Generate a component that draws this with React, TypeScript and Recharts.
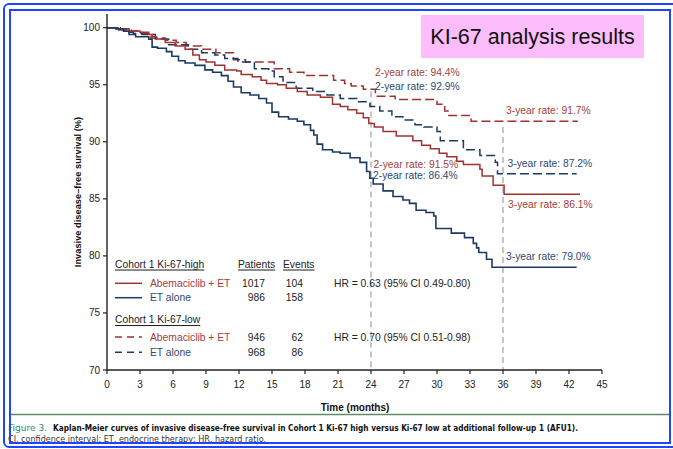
import React from 'react';
import { LineChart, Line, XAxis, YAxis, ReferenceLine } from 'recharts';

// ---- data (months, survival %) ----
const xTicks = [0, 3, 6, 9, 12, 15, 18, 21, 24, 27, 30, 33, 36, 39, 42, 45];
const yTicks = [70, 75, 80, 85, 90, 95, 100];

const highAbema: [number, number][] = [
  [0, 100], [1.0, 99.9], [2.0, 99.7], [3.0, 99.6], [3.8, 99.4], [4.1, 99.2], [4.5, 99.0],
  [5.3, 98.7], [6.2, 98.4], [7.1, 98.1], [7.8, 97.6], [8.4, 97.2], [9.0, 97.0], [9.8, 96.7],
  [10.7, 96.3], [11.8, 96.2], [12.2, 95.9], [13.2, 95.7], [14.0, 95.4], [14.5, 95.1],
  [15.5, 95.0], [16.3, 94.7], [17.3, 94.4], [18.2, 94.1], [19.4, 93.9], [20.5, 93.3],
  [21.2, 93.1], [21.9, 92.8], [22.7, 92.5], [23.3, 92.1], [23.8, 91.6], [24.3, 91.3],
  [25.1, 90.9], [26.3, 90.5], [27.8, 90.1], [28.6, 89.7], [29.4, 89.4], [30.2, 89.0],
  [30.9, 88.7], [31.8, 88.3], [32.4, 88.0], [33.9, 87.6], [34.1, 87.0], [35.1, 86.2],
  [36.1, 85.4], [43.0, 85.4],
];

const highET: [number, number][] = [
  [0, 100], [0.8, 99.9], [1.5, 99.7], [2.0, 99.4], [2.6, 99.2], [3.8, 99.0], [4.1, 98.3],
  [4.6, 98.2], [5.4, 97.9], [5.9, 97.5], [6.5, 97.1], [7.1, 96.9], [8.0, 96.7], [8.9, 96.3],
  [9.6, 96.1], [10.4, 95.8], [11.0, 95.3], [11.5, 94.8], [12.2, 94.3], [13.0, 94.1],
  [13.8, 93.8], [14.5, 93.4], [15.0, 92.6], [15.6, 92.2], [16.5, 92.0], [17.3, 91.8],
  [17.9, 91.5], [18.5, 91.0], [18.8, 90.6], [19.1, 89.8], [19.6, 89.3], [20.5, 89.1],
  [21.2, 89.0], [22.1, 88.6], [23.0, 88.2], [23.6, 87.4], [23.9, 86.8], [24.2, 86.3],
  [25.1, 85.7], [26.0, 85.2], [26.9, 84.9], [27.5, 84.6], [28.1, 84.0], [29.0, 83.8],
  [29.7, 83.5], [29.9, 82.4], [31.3, 82.0], [32.5, 81.6], [33.3, 81.1], [33.6, 80.7],
  [33.8, 80.3], [34.5, 79.7], [35.0, 79.0], [42.7, 79.0],
];

const lowAbema: [number, number][] = [
  [0, 100], [0.9, 99.8], [2.2, 99.7], [3.2, 99.5], [4.0, 99.1], [5.3, 98.9], [6.3, 98.7],
  [7.2, 98.4], [8.6, 98.1], [9.9, 97.8], [11.5, 97.2], [12.6, 97.0], [15.2, 96.4],
  [16.6, 96.1], [17.9, 95.8], [20.6, 95.4], [21.6, 95.1], [22.2, 94.9], [23.3, 94.6],
  [24.4, 94.0], [26.2, 93.7], [30.0, 93.3], [30.7, 92.7], [31.0, 92.3], [33.1, 91.8],
  [42.8, 91.8],
];

const lowET: [number, number][] = [
  [0, 100], [1.2, 99.9], [1.8, 99.6], [2.4, 99.5], [3.2, 99.4], [4.4, 99.0], [5.6, 98.5],
  [7.4, 98.1], [8.6, 97.8], [9.8, 97.6], [10.7, 97.3], [11.9, 97.0], [13.4, 96.4],
  [14.7, 96.2], [15.2, 95.7], [16.0, 95.2], [17.2, 94.7], [18.7, 94.4], [20.0, 94.1],
  [21.2, 93.8], [22.7, 93.5], [23.9, 93.1], [24.8, 92.7], [25.9, 92.2], [26.9, 91.9],
  [28.0, 91.5], [28.8, 91.3], [30.0, 90.9], [30.3, 90.1], [32.4, 89.3], [33.9, 88.8],
  [35.3, 88.2], [35.5, 87.2], [42.7, 87.2],
];

const rateLabels = [
  { text: '2-year rate: 94.4%', group: 'red' },
  { text: '2-year rate: 92.9%', group: 'blue' },
  { text: '3-year rate: 91.7%', group: 'red' },
  { text: '2-year rate: 91.5%', group: 'red' },
  { text: '2-year rate: 86.4%', group: 'blue' },
  { text: '3-year rate: 87.2%', group: 'blue' },
  { text: '3-year rate: 86.1%', group: 'red' },
  { text: '3-year rate: 79.0%', group: 'blue' },
];

const toPts = (arr: [number, number][]) => arr.map(([t, s]) => ({ t, s }));

const RED = '#a03232';
const BLUE = '#1d3a63';
const RED_TXT = '#a4403b';
const BLUE_TXT = '#2c4a72';
const FONT = '"Liberation Sans", Arial, Helvetica, sans-serif';
const NARROW = '"Liberation Sans Narrow", "DejaVu Sans Condensed", Arial, sans-serif';

const ratePos = [
  [375, 72.7], [375, 86], [506, 110], [373.5, 164], [373, 175.7], [507.5, 163.3], [508, 204], [506, 256.7],
];

export default function App() {
  return (
    <div style={{ position: 'absolute', left: 0, top: 0, width: 673, height: 449, background: '#fff', overflow: 'hidden' }}>
      <LineChart
        width={673}
        height={449}
        margin={{ top: 14, right: 71, bottom: 39, left: 47 }}
      >
        <XAxis
          type="number"
          dataKey="t"
          domain={[0, 45]}
          ticks={xTicks}
          interval={0}
          allowDataOverflow
          height={40}
          tickSize={4}
          tickMargin={7}
          axisLine={{ stroke: '#222', strokeWidth: 1.4 }}
          tickLine={{ stroke: '#222', strokeWidth: 1.2 }}
          tick={{ fontSize: 10, fill: '#222', fontFamily: FONT }}
        />
        <YAxis
          type="number"
          dataKey="s"
          domain={[70, 101.2]}
          ticks={yTicks}
          interval={0}
          allowDataOverflow
          width={60}
          tickSize={4}
          tickMargin={3}
          axisLine={{ stroke: '#222', strokeWidth: 1.4 }}
          tickLine={{ stroke: '#222', strokeWidth: 1.2 }}
          tick={{ fontSize: 10, fill: '#222', fontFamily: FONT }}
        />
        <ReferenceLine segment={[{ x: 24, y: 94.4 }, { x: 24, y: 70 }]} stroke="#999" strokeWidth={1.1} strokeDasharray="6 4" />
        <ReferenceLine segment={[{ x: 36, y: 91.3 }, { x: 36, y: 70 }]} stroke="#999" strokeWidth={1.1} strokeDasharray="6 4" />
        <Line data={toPts(lowAbema)} dataKey="s" type="stepAfter" stroke={RED} strokeWidth={1.5} strokeDasharray="9 4" dot={false} isAnimationActive={false} />
        <Line data={toPts(lowET)} dataKey="s" type="stepAfter" stroke={BLUE} strokeWidth={1.5} strokeDasharray="9 4" dot={false} isAnimationActive={false} />
        <Line data={toPts(highAbema)} dataKey="s" type="stepAfter" stroke={RED} strokeWidth={1.5} dot={false} isAnimationActive={false} />
        <Line data={toPts(highET)} dataKey="s" type="stepAfter" stroke={BLUE} strokeWidth={1.6} dot={false} isAnimationActive={false} />
      </LineChart>

      <svg width={673} height={449} style={{ position: 'absolute', left: 0, top: 0, pointerEvents: 'none' }}>
        {/* pink title box */}
        <rect x={421} y={15} width={223} height={43} fill="#fdbdfc" />
        <text x={532.5} y={44} textAnchor="middle" fontSize={21.5} fill="#111" fontFamily={FONT}>KI-67 analysis results</text>

        {/* rate annotations */}
        {rateLabels.map((r, i) => (
          <text key={i} x={ratePos[i][0]} y={ratePos[i][1]} dominantBaseline="central" fontSize={10.3}
            fill={r.group === 'red' ? RED_TXT : BLUE_TXT} fontFamily={FONT}>{r.text}</text>
        ))}

        {/* legend */}
        <g fontFamily={FONT} fontSize={10.3} fill="#222">
          <text x={115} y={264} dominantBaseline="central" style={{ textDecoration: 'underline' }}>Cohort 1 Ki-67-high</text>
          <text x={238} y={264} dominantBaseline="central" style={{ textDecoration: 'underline' }}>Patients</text>
          <text x={283} y={264} dominantBaseline="central" style={{ textDecoration: 'underline' }}>Events</text>

          <line x1={115} x2={142} y1={283.3} y2={283.3} stroke={RED} strokeWidth={1.5} />
          <text x={150} y={283} dominantBaseline="central" fill={RED_TXT}>Abemaciclib + ET</text>
          <text x={265} y={283} dominantBaseline="central" textAnchor="end">1017</text>
          <text x={303} y={283} dominantBaseline="central" textAnchor="end">104</text>
          <text x={334} y={283} dominantBaseline="central">HR = 0.63 (95% CI 0.49-0.80)</text>

          <line x1={115} x2={142} y1={297.7} y2={297.7} stroke={BLUE} strokeWidth={1.5} />
          <text x={150} y={297.7} dominantBaseline="central" fill={BLUE_TXT}>ET alone</text>
          <text x={265} y={297.7} dominantBaseline="central" textAnchor="end">986</text>
          <text x={303} y={297.7} dominantBaseline="central" textAnchor="end">158</text>

          <text x={115} y={319.5} dominantBaseline="central" style={{ textDecoration: 'underline' }}>Cohort 1 Ki-67-low</text>

          <line x1={115} x2={142} y1={337} y2={337} stroke={RED} strokeWidth={1.5} strokeDasharray="7 5" />
          <text x={150} y={337} dominantBaseline="central" fill={RED_TXT}>Abemaciclib + ET</text>
          <text x={265} y={337} dominantBaseline="central" textAnchor="end">946</text>
          <text x={303} y={337} dominantBaseline="central" textAnchor="end">62</text>
          <text x={334} y={337} dominantBaseline="central">HR = 0.70 (95% CI 0.51-0.98)</text>

          <line x1={115} x2={142} y1={352.3} y2={352.3} stroke={BLUE} strokeWidth={1.5} strokeDasharray="7 5" />
          <text x={150} y={352.3} dominantBaseline="central" fill={BLUE_TXT}>ET alone</text>
          <text x={265} y={352.3} dominantBaseline="central" textAnchor="end">968</text>
          <text x={303} y={352.3} dominantBaseline="central" textAnchor="end">86</text>
        </g>

        {/* axis titles */}
        <text x={78} y={192} transform="rotate(-90 78 192)" textAnchor="middle" dominantBaseline="central"
          fontSize={9.3} fontWeight="bold" fill="#111" fontFamily={FONT}>Invasive disease–free survival (%)</text>
        <text x={355} y={407} textAnchor="middle" dominantBaseline="central" fontSize={10} fontWeight="bold"
          fill="#111" fontFamily={FONT}>Time (months)</text>

        {/* caption */}
        <line x1={10} x2={670} y1={414.5} y2={414.5} stroke="#5f8a6c" strokeWidth={1.5} />
        <text x={8} y={427} dominantBaseline="central" fontSize={9.5} textLength={39} lengthAdjust="spacingAndGlyphs"
          fill="#2f8a68" fontFamily={NARROW}>Figure 3.</text>
        <text x={53} y={427} dominantBaseline="central" fontSize={9.5} textLength={525} lengthAdjust="spacingAndGlyphs"
          fill="#111" fontWeight="bold" fontFamily={NARROW}>Kaplan-Meier curves of invasive disease-free survival in Cohort 1 Ki-67 high versus Ki-67 low at additional follow-up 1 (AFU1).</text>
        <text x={8} y={438.5} dominantBaseline="central" fontSize={9.5} textLength={258} lengthAdjust="spacingAndGlyphs"
          fill="#333" fontFamily={NARROW}>CI, confidence interval; ET, endocrine therapy; HR, hazard ratio.</text>

        {/* frame */}
        <rect x={4} y={4} width={690} height={443} rx={5} fill="none" stroke="#1f45ff" strokeWidth={2} />
        <rect x={10} y={10} width={660} height={433} fill="none" stroke="#1f45ff" strokeWidth={2} />
      </svg>
    </div>
  );
}
